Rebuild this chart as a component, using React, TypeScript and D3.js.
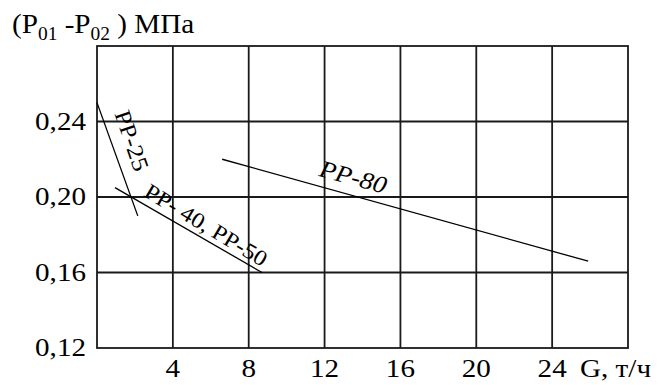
import React from "react";
import * as d3 from "d3";

// Data
const xTicks = [4, 8, 12, 16, 20, 24];
const yTicks = [0.12, 0.16, 0.2, 0.24];
const xDomain = [0, 28];
const yDomain = [0.12, 0.28];

const pp25G = [0, 2.15];
const pp25P = [0.25, 0.19];
const pp4050G = [0.95, 8.7];
const pp4050P = [0.205, 0.16];
const pp80G = [6.6, 25.9];
const pp80P = [0.22, 0.166];

const seriesLabels = ["РР-25", "РР- 40, РР-50", "РР-80"];

const W = 661;
const H = 385;
const FONT = "Liberation Serif, DejaVu Serif, serif";
const SX = 1.12;

export default function App() {
  const x = d3.scaleLinear().domain(xDomain).range([97, 628]);
  const y = d3.scaleLinear().domain(yDomain).range([348, 46]);
  const line = d3
    .line<[number, number]>()
    .x((d) => x(d[0]))
    .y((d) => y(d[1]));
  const mk = (g: number[], p: number[]) => g.map((v, i) => [v, p[i]] as [number, number]);
  const series = [mk(pp25G, pp25P), mk(pp4050G, pp4050P), mk(pp80G, pp80P)];
  const fmt = (v: number) => d3.format(".2f")(v).replace(".", ",");

  const [x0, x1] = x.range();
  const [y0, y1] = y.range();

  // label anchors (baseline centre) and angles
  const labelPos = [
    { gx: 1.45, gy: 0.2285, rot: 71, italic: false, size: 23 },
    { gx: 5.55, gy: 0.1818, rot: 31, italic: false, size: 22 },
    { gx: 13.4, gy: 0.2065, rot: 15, italic: true, size: 24 },
  ];

  const ts = { fontFamily: FONT };

  return (
    <svg
      width={W}
      height={H}
      style={{ position: "absolute", left: 0, top: 0, background: "#fff", fontFamily: FONT }}
    >
      <rect x={0} y={0} width={W} height={H} fill="#fff" />
      {/* grid */}
      <g stroke="#1a1a1a" strokeWidth={1.8} fill="none">
        {xTicks.map((t) => (
          <line key={"gx" + t} x1={x(t)} x2={x(t)} y1={y1} y2={y0} />
        ))}
        {yTicks
          .filter((t) => t !== yDomain[0])
          .map((t) => (
            <line key={"gy" + t} x1={x0} x2={x1} y1={y(t)} y2={y(t)} />
          ))}
        <rect x={x0} y={y1} width={x1 - x0} height={y0 - y1} />
      </g>

      {/* series */}
      <g stroke="#000" strokeWidth={1.3} fill="none">
        {series.map((s, i) => (
          <path key={i} d={line(s) || ""} />
        ))}
      </g>

      {/* series labels */}
      {labelPos.map((l, i) => (
        <text
          key={"lab" + i}
          style={ts}
          transform={`translate(${x(l.gx)},${y(l.gy)}) rotate(${l.rot}) scale(${SX},1)`}
          textAnchor="middle"
          fontSize={l.size}
          fontStyle={l.italic ? "italic" : "normal"}
          fill="#000"
        >
          {seriesLabels[i]}
        </text>
      ))}

      {/* y tick labels */}
      {yTicks.map((t) => (
        <text
          key={"yl" + t}
          style={ts}
          transform={`translate(86,${y(t) + 8}) scale(${SX},1)`}
          textAnchor="end"
          fontSize={26}
          fill="#000"
        >
          {fmt(t)}
        </text>
      ))}

      {/* x tick labels */}
      {xTicks.map((t) => (
        <text
          key={"xl" + t}
          style={ts}
          transform={`translate(${x(t)},377) scale(${SX},1)`}
          textAnchor="middle"
          fontSize={26}
          fill="#000"
        >
          {t}
        </text>
      ))}

      {/* x axis title */}
      <text style={ts} transform={`translate(580,377) scale(${SX},1)`} fontSize={26} fill="#000">
        G, т/ч
      </text>

      {/* y axis title */}
      <text style={ts} transform={`translate(12,33) scale(1.08,1)`} fontSize={27} fill="#000">
        (P<tspan fontSize={18} dy={7}>01</tspan>
        <tspan dy={-7}> -P</tspan>
        <tspan fontSize={18} dy={7}>02</tspan>
        <tspan dy={-7}> ) МПа</tspan>
      </text>
    </svg>
  );
}
